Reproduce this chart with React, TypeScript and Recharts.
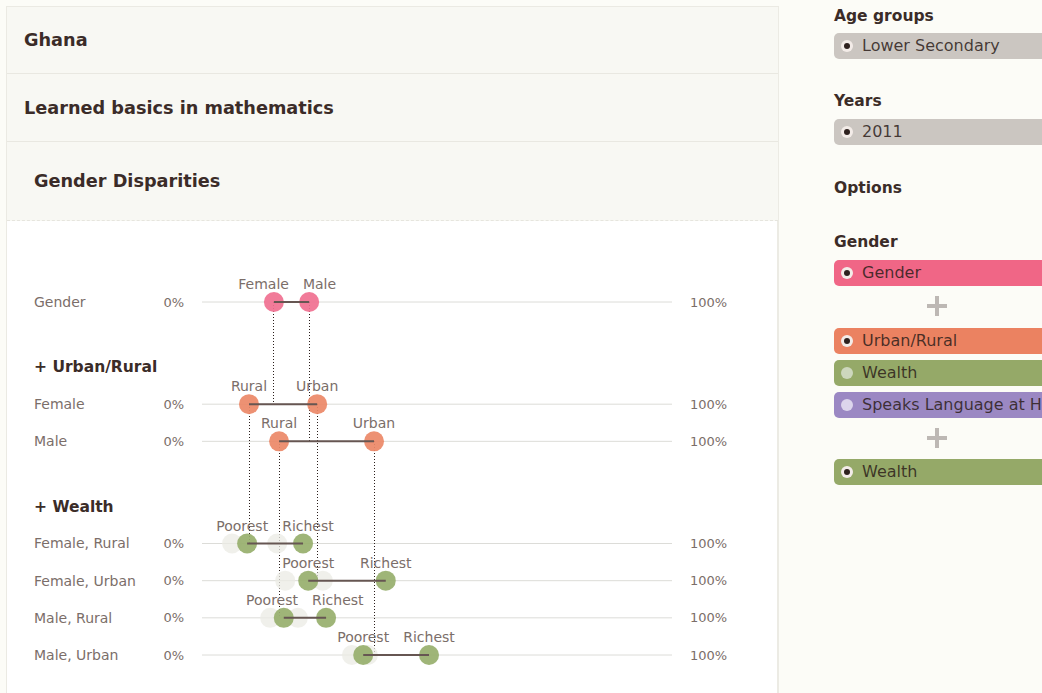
import React from 'react';
import { ScatterChart, Scatter, XAxis, YAxis, ReferenceLine } from 'recharts';

// one row per breakdown, values are % who learned basics in mathematics
const rowNames = ['Gender', 'Female', 'Male', 'Female, Rural', 'Female, Urban', 'Male, Rural', 'Male, Urban'];
const lowLabels = ['Female', 'Rural', 'Rural', 'Poorest', 'Poorest', 'Poorest', 'Poorest'];
const highLabels = ['Male', 'Urban', 'Urban', 'Richest', 'Richest', 'Richest', 'Richest'];
const lowValues = [15.3, 10.0, 16.4, 9.6, 22.6, 17.4, 34.3];
const highValues = [22.8, 24.5, 36.6, 21.5, 39.1, 26.4, 48.3];
// the middle wealth quintiles, drawn faded behind
const midQuintiles = [[], [], [], [6.4, 16.0], [17.7, 25.7], [14.5, 20.4], [31.9, 35.3]];
const sectionTitles = ['', '+ Urban/Rural', '+ Wealth'];
const sectionRows = [[0], [1, 2], [3, 4, 5, 6]];
// which row and which end (0 low, 1 high) each row splits further
const parentOf: (number[] | null)[] = [null, [0, 0], [0, 1], [1, 0], [1, 1], [2, 0], [2, 1]];
const sectionColors = ['#f07090', '#ec8867', '#97af6c'];

const FONT = '"DejaVu Sans", Verdana, sans-serif';
const DARK = '#3b2c28';
const MUTED = '#7b6e69';

const CHART_W = 772;
const CHART_H = 472;
const MARGIN = { top: 81, right: 106, bottom: 38, left: 196 };
const PX_PER_UNIT = (CHART_W - MARGIN.left - MARGIN.right) / 100;

// vertical layout in "slots"
const rowSlot: number[] = [];
const titleSlot: number[] = [];
let slot = 0;
sectionRows.forEach((rows, i) => {
  if (i > 0) {
    slot += 3.5;
    titleSlot[i] = slot;
    slot += 2;
  }
  rows.forEach((r, j) => {
    if (j > 0) slot += 2;
    rowSlot[r] = slot;
  });
});
const maxSlot = slot;

// push the two end labels apart when they would collide
let ctx: CanvasRenderingContext2D | null = null;
const textWidth = (s: string) => {
  if (!ctx && typeof document !== 'undefined') ctx = document.createElement('canvas').getContext('2d');
  if (!ctx) return s.length * 8;
  ctx.font = `14px ${FONT}`;
  return ctx.measureText(s).width;
};
const labelShift = (r: number) => {
  const need = (textWidth(lowLabels[r]) + textWidth(highLabels[r])) / 2 + 14;
  const dist = (highValues[r] - lowValues[r]) * PX_PER_UNIT;
  return dist < need ? (need - dist) / 2 : 0;
};

const RowLabel = ({ viewBox, name }: any) => {
  const { x, y, width } = viewBox;
  return (
    <g fontFamily={FONT} fill={MUTED}>
      <text x={x - 168} y={y} dy="0.35em" fontSize={14}>{name}</text>
      <text x={x - 18} y={y} dy="0.35em" fontSize={13} textAnchor="end">0%</text>
      <text x={x + width + 18} y={y} dy="0.35em" fontSize={13}>100%</text>
    </g>
  );
};

const TitleLabel = ({ viewBox, name }: any) => (
  <text x={viewBox.x - 168} y={viewBox.y} dy="0.35em" fontFamily={FONT} fontSize={15.5} fontWeight="bold" fill={DARK}>
    {name}
  </text>
);

const makeDot = (color: string) => (props: any) => {
  const { cx, cy, payload } = props;
  return (
    <g>
      <circle cx={cx} cy={cy} r={10} fill={color} fillOpacity={0.92} />
      <text x={cx + payload.shift} y={cy - 13} textAnchor="middle" fontFamily={FONT} fontSize={14} fill={MUTED}>
        {payload.label}
      </text>
    </g>
  );
};

const Ghost = (props: any) => <circle cx={props.cx} cy={props.cy} r={10} fill="#ebebe4" fillOpacity={0.75} />;

function DumbbellChart() {
  const ghosts = midQuintiles.flatMap((vals, r) => vals.map((v) => ({ x: v, y: rowSlot[r] })));
  return (
    <ScatterChart width={CHART_W} height={CHART_H} margin={MARGIN}>
      <XAxis type="number" dataKey="x" domain={[0, 100]} hide />
      <YAxis type="number" dataKey="y" domain={[0, maxSlot]} reversed hide />
      {rowNames.map((name, r) => (
        <ReferenceLine
          key={'row' + r}
          y={rowSlot[r]}
          stroke="#dcdcd8"
          strokeWidth={1}
          label={(p: any) => <RowLabel viewBox={p.viewBox} name={name} />}
        />
      ))}
      {sectionTitles.map((t, i) =>
        t ? (
          <ReferenceLine
            key={'title' + i}
            y={titleSlot[i]}
            stroke="none"
            label={(p: any) => <TitleLabel viewBox={p.viewBox} name={t} />}
          />
        ) : null
      )}
      <Scatter data={ghosts} shape={Ghost} isAnimationActive={false} />
      {parentOf.map((par, r) => {
        if (!par) return null;
        const px = par[1] === 0 ? lowValues[par[0]] : highValues[par[0]];
        return (
          <ReferenceLine
            key={'drop' + r}
            segment={[
              { x: px, y: rowSlot[par[0]] },
              { x: px, y: rowSlot[r] },
            ]}
            stroke="#2a1d1a"
            strokeWidth={1}
            strokeDasharray="1 2"
            shapeRendering="crispEdges"
          />
        );
      })}
      {sectionRows.map((rows, i) => (
        <Scatter
          key={'pts' + i}
          data={rows.flatMap((r) => {
            const s = labelShift(r);
            return [
              { x: lowValues[r], y: rowSlot[r], label: lowLabels[r], shift: -s },
              { x: highValues[r], y: rowSlot[r], label: highLabels[r], shift: s },
            ];
          })}
          shape={makeDot(sectionColors[i])}
          isAnimationActive={false}
        />
      ))}
      {rowNames.map((_, r) => (
        <Scatter
          key={'bar' + r}
          data={[
            { x: lowValues[r], y: rowSlot[r] },
            { x: highValues[r], y: rowSlot[r] },
          ]}
          fill="#665652"
          line={{ stroke: '#665652', strokeWidth: 2 }}
          shape={() => <g />}
          isAnimationActive={false}
        />
      ))}
    </ScatterChart>
  );
}

const Radio = ({ on, tint }: { on: boolean; tint: string }) => (
  <span
    style={{
      position: 'absolute',
      left: 7,
      top: 7,
      width: 12,
      height: 12,
      borderRadius: 6,
      background: on ? '#f3ece8' : tint,
      display: 'flex',
      alignItems: 'center',
      justifyContent: 'center',
    }}
  >
    {on && <span style={{ width: 6, height: 6, borderRadius: 3, background: '#2e211e' }} />}
  </span>
);

const Pill = ({ top, color, text, on = true, tint = '#ddd' }: any) => (
  <div
    style={{
      position: 'absolute',
      left: 834,
      top,
      width: 230,
      height: 26,
      borderRadius: 5,
      background: color,
      color: 'rgba(45,30,26,0.85)',
      fontSize: 16,
      lineHeight: '26px',
      whiteSpace: 'nowrap',
      overflow: 'hidden',
    }}
  >
    <Radio on={on} tint={tint} />
    <span style={{ position: 'absolute', left: 28 }}>{text}</span>
  </div>
);

const SideHead = ({ top, text }: any) => (
  <div style={{ position: 'absolute', left: 834, top, fontSize: 15.5, fontWeight: 'bold', color: DARK, lineHeight: '20px' }}>
    {text}
  </div>
);

const Plus = ({ top }: any) => (
  <div style={{ position: 'absolute', left: 926, top, width: 22, height: 22 }}>
    <div style={{ position: 'absolute', left: 9, top: 1, width: 4, height: 20, background: '#bdb8b4' }} />
    <div style={{ position: 'absolute', left: 1, top: 9, width: 20, height: 4, background: '#bdb8b4' }} />
  </div>
);

const headBlock = (top: number, height: number, pad: number): React.CSSProperties => ({
  position: 'absolute',
  left: 7,
  top,
  width: 771,
  height,
  background: '#f8f8f3',
  borderBottom: '1px solid #e9e8e1',
  display: 'flex',
  alignItems: 'center',
  paddingLeft: pad,
  boxSizing: 'border-box',
  fontSize: 17.7,
  fontWeight: 'bold',
  color: DARK,
});

export default function App() {
  return (
    <div
      style={{
        position: 'absolute',
        left: 0,
        top: 0,
        width: 1042,
        height: 693,
        overflow: 'hidden',
        background: '#fcfcf7',
        fontFamily: FONT,
      }}
    >
      <div
        style={{
          position: 'absolute',
          left: 6,
          top: 6,
          width: 773,
          height: 700,
          border: '1px solid #ebeae3',
          borderRight: '2px solid #ecebe4',
          background: '#fff',
          boxSizing: 'border-box',
        }}
      />
      <div style={headBlock(7, 67, 17)}>Ghana</div>
      <div style={headBlock(74, 68, 17)}>Learned basics in mathematics</div>
      <div style={{ ...headBlock(142, 79, 27), borderBottom: '1px dashed #e6e5de' }}>Gender Disparities</div>
      <div style={{ position: 'absolute', left: 6, top: 221 }}>
        <DumbbellChart />
      </div>

      <SideHead top={6} text="Age groups" />
      <Pill top={33} color="#cbc6c1" text="Lower Secondary" />
      <SideHead top={91} text="Years" />
      <Pill top={119} color="#cbc6c1" text="2011" />
      <SideHead top={178} text="Options" />
      <SideHead top={232} text="Gender" />
      <Pill top={260} color="#f06686" text="Gender" />
      <Plus top={295} />
      <Pill top={328} color="#eb8261" text="Urban/Rural" />
      <Pill top={360} color="#95a968" text="Wealth" on={false} tint="#cdd7bd" />
      <Pill top={392} color="#9b88c3" text="Speaks Language at Home" on={false} tint="#dcd5ec" />
      <Plus top={427} />
      <Pill top={459} color="#95a968" text="Wealth" />
    </div>
  );
}
